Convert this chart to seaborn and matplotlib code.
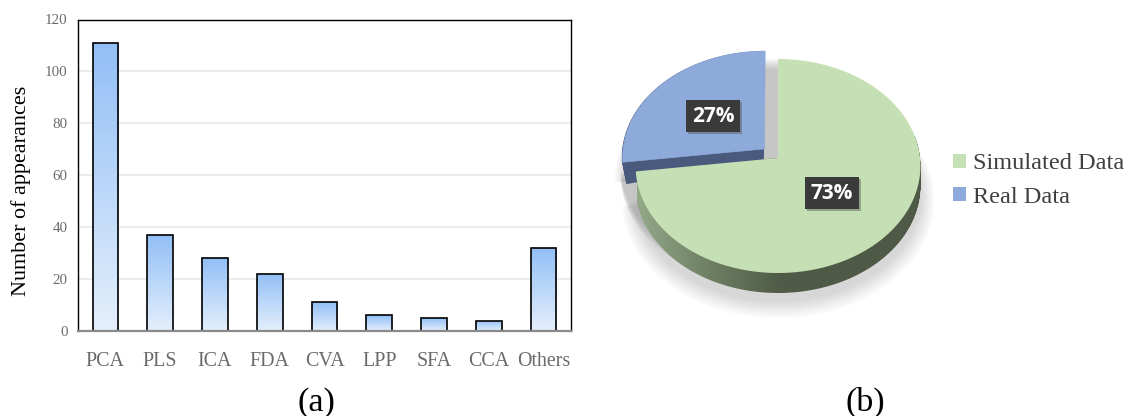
import numpy as np
import pandas as pd
import matplotlib.pyplot as plt
import matplotlib.patheffects as pe
import seaborn as sns
from matplotlib.colors import LinearSegmentedColormap
from matplotlib.patches import Patch, Polygon
from matplotlib.path import Path

methods = ['PCA', 'PLS', 'ICA', 'FDA', 'CVA', 'LPP', 'SFA', 'CCA', 'Others']
appearances = [111, 37, 28, 22, 11, 6, 5, 4, 32]
y_ticks = [0, 20, 40, 60, 80, 100, 120]

data_labels = ['Simulated Data', 'Real Data']
data_shares = [73, 27]
data_colors = ['#c6e0b5', '#8eaadb']

W, H = 1129, 416

sns.set_theme(style='white')
plt.rcParams['font.family'] = ['Liberation Serif', 'DejaVu Serif']
plt.rcParams['savefig.dpi'] = 100


def px_axes(fig, left, top, right, bottom):
    # axes rectangle given in picture pixels
    return fig.add_axes([left / W, 1 - bottom / H, (right - left) / W, (bottom - top) / H])


fig = plt.figure(figsize=(W / 100, H / 100), dpi=100)

# (a) bar chart
ax = px_axes(fig, 78, 19.5, 571, 331)
df = pd.DataFrame({'method': methods, 'count': appearances})
sns.barplot(data=df, x='method', y='count', order=methods, width=0.47, ax=ax,
            facecolor='none', edgecolor='black', linewidth=1.2, zorder=3)

bar_cmap = LinearSegmentedColormap.from_list('bar', ['#e4effc', '#92bff6'])
gradient = np.linspace(1, 0, 128).reshape(-1, 1)
for bar in ax.patches:
    x0, w, h = bar.get_x(), bar.get_width(), bar.get_height()
    im = ax.imshow(gradient, cmap=bar_cmap, aspect='auto', zorder=2,
                   extent=(x0, x0 + w, 0, h), vmin=0, vmax=1)
    im.set_clip_path(bar)

ax.set_xlim(-0.5, len(methods) - 0.5)
ax.set_ylim(0, 120)
ax.set_yticks(y_ticks)
ax.yaxis.grid(True, color='#e8e8e8', linewidth=1.2, zorder=0)
ax.set_axisbelow(True)
ax.set_xlabel('')
ax.set_ylabel('Number of appearances', fontsize=15.9, color='black')
ax.yaxis.set_label_coords(-0.096, 0.451)
ax.tick_params(axis='x', length=0, labelsize=14.4, labelcolor='#6a6a6a', pad=15)
ax.tick_params(axis='y', length=0, labelsize=10.8, labelcolor='#6a6a6a', pad=7.5)
for side in ['top', 'left', 'right']:
    ax.spines[side].set_color('black')
    ax.spines[side].set_linewidth(1.0)
ax.spines['bottom'].set_color('#8a8a8a')
ax.spines['bottom'].set_linewidth(1.6)
ax.spines['bottom'].set_zorder(4)

# (b) tilted pie, drawn by pie() and then put into perspective
PX_X, PX_Y = 142, 106.4     # pixels per unit of the pie
APEX_X, APEX_Y = 778, 158   # pie centre in the picture
TILT = 0.0748
pie_l, pie_t, pie_r, pie_b = 600, 30, 950, 320

pax = px_axes(fig, pie_l, pie_t, pie_r, pie_b)
pie_wedges, _ = pax.pie(data_shares, colors=data_colors, startangle=90, counterclock=False,
                        explode=[0, 0.13])
pax.set_aspect('auto')


def perspective(w):
    # outline of the wedge, sampled finely, with the viewing tilt applied
    t = np.radians(np.linspace(w.theta1, w.theta2, 240))
    cx, cy = w.center
    xs = np.r_[cx, cx + w.r * np.cos(t)]
    ys = np.r_[cy, cy + w.r * np.sin(t)]
    k = 1 + TILT * ys
    return np.column_stack([xs / k, ys / k])


green_top = perspective(pie_wedges[0])
blue_top = perspective(pie_wedges[1])
for w in pie_wedges:
    w.set_visible(False)

# soft shadow beneath the pie
for s in np.linspace(0, 1, 14):
    grow = 1.10 - 0.10 * s
    pts = green_top * [grow, grow] + [0, -(34 - 6 * s) / PX_Y]
    pax.add_patch(Polygon(pts, facecolor='#777777', edgecolor='none', alpha=0.02, zorder=1))
    pts = blue_top * [1 + 0.05 * (1 - s), 1 + 0.05 * (1 - s)] + [0, -20 / PX_Y]
    pax.add_patch(Polygon(pts, facecolor='#777777', edgecolor='none', alpha=0.016, zorder=1))

# shadow in the gap between the slices
for dy in np.linspace(0, 10, 10):
    pts = green_top + [-15 / PX_X, -dy / PX_Y]
    pax.add_patch(Polygon(pts, facecolor='#999999', edgecolor='none', alpha=0.07, zorder=2))

# side wall of the green slice, with a gradient running left to right
steps = np.linspace(0, 20, 21) / PX_Y
side_path = Path.make_compound_path(*[Path(green_top - [0, d]) for d in steps])
side_cmap = LinearSegmentedColormap.from_list('side', ['#93a988', '#6f8064', '#505c47', '#4f5a46', '#4f5a46'])
side = pax.imshow(np.linspace(0, 1, 256).reshape(1, -1), cmap=side_cmap, aspect='auto', zorder=3,
                  extent=((637 - APEX_X) / PX_X, (921 - APEX_X) / PX_X, -1.4, 0.2))
side.set_clip_path(side_path, pax.transData)

# side wall of the blue slice, deeper towards its outer edge
blue_dist = np.clip(blue_top[0, 0] - blue_top[:, 0], 0, 1)
for t in np.linspace(0, 1, 23):
    offset = np.column_stack([blue_dist * 0.03 * t, -(11 + 11 * blue_dist) * t / PX_Y])
    pax.add_patch(Polygon(blue_top + offset + [-0.006, 0], facecolor='#4a5a7c', edgecolor='none', zorder=4))

pax.add_patch(Polygon(blue_top, facecolor=data_colors[1], edgecolor=data_colors[1], linewidth=0.5, zorder=5))
pax.add_patch(Polygon(green_top, facecolor=data_colors[0], edgecolor='none', zorder=6))
pax.set_xlim((pie_l - APEX_X) / PX_X, (pie_r - APEX_X) / PX_X)
pax.set_ylim((APEX_Y - pie_b) / PX_Y, (APEX_Y - pie_t) / PX_Y)

box = dict(boxstyle='square,pad=0.27', facecolor='#3a3a3a', edgecolor='none')
for value, px, py in [(data_shares[1], 713, 116), (data_shares[0], 832, 193)]:
    label = pax.text((px - APEX_X) / PX_X, (APEX_Y - py) / PX_Y, f'{value}%', color='white',
                     fontsize=15, fontweight='bold', family='Open Sans', ha='center', va='center',
                     bbox=box, zorder=8)
    label.get_bbox_patch().set_path_effects([
        pe.SimplePatchShadow(offset=(1.5, -1.5), shadow_rgbFace='#555555', alpha=0.45), pe.Normal()])

handles = [Patch(facecolor=c, edgecolor='none', label=l) for c, l in zip(data_colors, data_labels)]
fig.legend(handles=handles, loc='center left', bbox_to_anchor=(953 / W, 1 - 180.5 / H), frameon=False,
           fontsize=17.5, handlelength=0.54, handleheight=0.54, handletextpad=0.27, labelspacing=0.5,
           labelcolor='#404040', borderaxespad=0, borderpad=0)

fig.text(316 / W, 1 - 402.5 / H, '(a)', fontsize=24.5, color='black', ha='center', va='center')
fig.text(865 / W, 1 - 402.5 / H, '(b)', fontsize=24.5, color='black', ha='center', va='center')

fig.savefig('out.png', dpi=100)
